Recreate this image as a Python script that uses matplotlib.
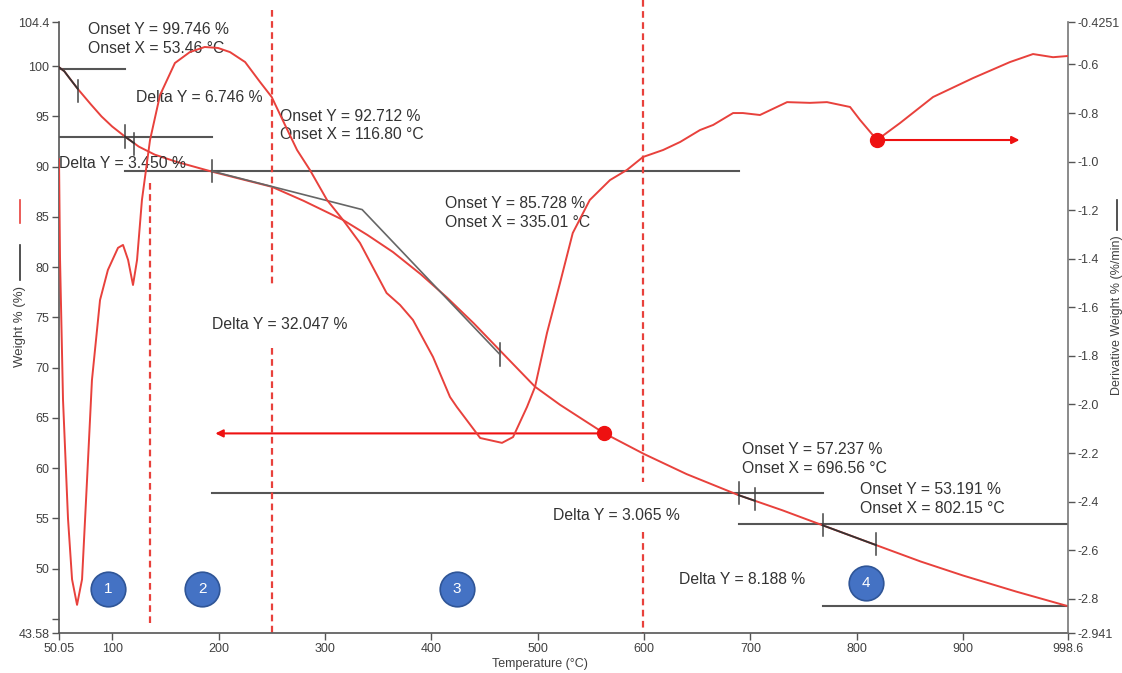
import matplotlib
matplotlib.use('Agg')
import matplotlib.pyplot as plt
from matplotlib.lines import Line2D
import numpy as np

plt.rcParams['font.family'] = ['Liberation Sans', 'DejaVu Sans']

# TGA weight curve (left axis, %)
temp_w = [50.05, 55, 60, 68, 80, 90, 100, 112, 125, 140, 160, 194, 220, 250,
          280, 317, 340, 364, 390, 414.5, 440, 464.6, 497.5, 521, 540, 562,
          600, 640, 689, 730, 768, 819, 860, 900, 950, 998.6]
weight = [99.9, 99.5, 98.8, 97.7, 96.2, 95.0, 94.0, 93.0, 92.0, 91.2, 90.5,
          89.5, 88.8, 88.0, 86.6, 84.7, 83.2, 81.5, 79.3, 77.0, 74.4, 71.7,
          68.1, 66.3, 65.0, 63.5, 61.4, 59.4, 57.3, 55.8, 54.3, 52.3, 50.7,
          49.3, 47.7, 46.25]

# derivative weight curve (right axis, %/min)
temp_d = [50.05, 51, 53.8, 58.5, 62.3, 67, 71.7, 76.4, 81, 88.6, 96, 105.5,
          110.2, 115, 119.6, 123.4, 128, 135.6, 145, 159, 173, 187, 199.5,
          210.8, 225, 239, 250, 262.5, 273.8, 286, 302, 317, 333, 345, 358,
          370.6, 382.8, 401.6, 417.6, 424, 446, 466.5, 476.9, 490, 497.5,
          508.8, 521, 533, 549, 568, 584, 599, 618, 634, 652.6, 665, 683.7,
          693, 709, 734.5, 756, 772, 793.7, 803, 819, 840.7, 871.7, 909.3,
          944, 965.7, 984.5, 998.6]
deriv = [-0.99, -1.40, -1.98, -2.47, -2.72, -2.825, -2.72, -2.31, -1.90,
         -1.57, -1.446, -1.355, -1.343, -1.405, -1.508, -1.405, -1.158,
         -0.911, -0.726, -0.594, -0.549, -0.528, -0.532, -0.549, -0.59,
         -0.672, -0.734, -0.849, -0.952, -1.035, -1.158, -1.24, -1.335,
         -1.434, -1.541, -1.59, -1.652, -1.804, -1.969, -2.01, -2.138,
         -2.158, -2.134, -2.01, -1.928, -1.705, -1.50, -1.294, -1.158,
         -1.076, -1.034, -0.981, -0.952, -0.919, -0.87, -0.849, -0.80,
         -0.80, -0.808, -0.755, -0.758, -0.755, -0.775, -0.828, -0.911,
         -0.841, -0.734, -0.656, -0.59, -0.557, -0.57, -0.565]

# step analysis results
onset_x = [53.46, 116.80, 335.01, 696.56, 802.15]
onset_y = [99.746, 92.712, 85.728, 57.237, 53.191]
delta_y = [6.746, 3.450, 32.047, 3.065, 8.188]

# step baselines: start/end temperature of each level line
level_t0 = [50.05, 50.05, 112.1, 194.0, 689.0, 767.8]
level_t1 = [112.1, 194.0, 689.0, 767.8, 998.6, 998.6]

# analysis limit markers on the weight curve
mark_t = [67.6, 112.1, 120.5, 194.0, 464.6, 689.0, 704.0, 767.8, 818.0]
mark_w = [97.5, 93.0, 92.3, 89.55, 71.3, 57.5, 56.9, 54.3, 52.4]

# tangent construction for the main step
tan_t = [194.0, 335.01, 464.6]
tan_w = [89.55, 85.728, 71.3]

# region boundaries and numbered regions
bound_t = [135.6, 250.3, 599.0]
region_t = [96.0, 184.5, 424.0, 808.7]
region_w = [48.0, 48.0, 48.0, 48.6]
region_lbl = ['1', '2', '3', '4']

xticks = [50.05, 100, 200, 300, 400, 500, 600, 700, 800, 900, 998.6]
xtick_lbl = ['50.05', '100', '200', '300', '400', '500', '600', '700', '800',
             '900', '998.6']
yticks = [43.58, 45, 50, 55, 60, 65, 70, 75, 80, 85, 90, 95, 100, 104.4]
ytick_lbl = ['43.58', '', '50', '55', '60', '65', '70', '75', '80', '85',
             '90', '95', '100', '104.4']
y2ticks = [-2.941, -2.8, -2.6, -2.4, -2.2, -2.0, -1.8, -1.6, -1.4, -1.2,
           -1.0, -0.8, -0.6, -0.4251]
y2tick_lbl = ['-2.941', '-2.8', '-2.6', '-2.4', '-2.2', '-2.0', '-1.8', '-1.6',
              '-1.4', '-1.2', '-1.0', '-0.8', '-0.6', '-0.4251']

RED = '#e8413c'
TXT = '#333333'
LINE = '#555555'

fig = plt.figure(figsize=(11.22, 6.73), dpi=100)
ax = fig.add_axes([0.0526, 0.0594, 0.8993, 0.9079])
ax2 = ax.twinx()

ax.set_xlim(50.05, 998.6)
ax.set_ylim(43.58, 104.4)
ax2.set_ylim(-2.941, -0.4251)

# curves
ax.plot(temp_w, weight, color=RED, lw=1.4, zorder=3)
ax2.plot(temp_d, deriv, color=RED, lw=1.4, zorder=3)

# baseline levels follow from the onset / delta values
levels = [onset_y[0]]
for d in delta_y:
    levels.append(levels[-1] - d)
for t0, t1, lv in zip(level_t0, level_t1, levels):
    ax.plot([t0, t1], [lv, lv], color=LINE, lw=1.5, zorder=2)

for t, w in zip(mark_t, mark_w):
    ax.plot([t, t], [w - 1.1, w + 1.1], color='#444444', lw=1.1, zorder=4)

ax.plot(tan_t, tan_w, color='#666666', lw=1.2, zorder=4)
# darker overlay where the analysis ranges sit on the curve
for ta, tb in [(50.05, 67.6), (112.1, 120.5), (689.0, 704.0), (767.8, 818.0)]:
    xs = [t for t in temp_w if ta < t < tb]
    ys = [w for t, w in zip(temp_w, weight) if ta < t < tb]
    xs = [ta] + xs + [tb]
    ys = ([float(np.interp(ta, temp_w, weight))] + ys
          + [float(np.interp(tb, temp_w, weight))])
    ax.plot(xs, ys, color='#333333', lw=1.3, zorder=4)

# dashed region boundaries (broken where labels sit)
dash_kw = dict(color=RED, lw=1.6, ls=(0, (3, 2)), zorder=2, clip_on=False)
ax.plot([bound_t[0], bound_t[0]], [88.4, 44.3], **dash_kw)
ax.plot([bound_t[1], bound_t[1]], [105.6, 78.2], **dash_kw)
ax.plot([bound_t[1], bound_t[1]], [72.0, 43.58], **dash_kw)
ax.plot([bound_t[2], bound_t[2]], [106.6, 58.6], **dash_kw)
ax.plot([bound_t[2], bound_t[2]], [53.6, 43.58], **dash_kw)

# pointer arrows from each curve to its axis
ax.annotate('', xy=(197, 63.45), xytext=(562, 63.45),
            arrowprops=dict(arrowstyle='-|>', color='#ee1111', lw=1.5,
                            mutation_scale=11, shrinkA=0, shrinkB=0), zorder=5)
ax.plot([562], [63.45], 'o', color='#ee1111', ms=10, zorder=6)
ax2.annotate('', xy=(953, -0.911), xytext=(819, -0.911),
             arrowprops=dict(arrowstyle='-|>', color='#ee1111', lw=1.5,
                             mutation_scale=11, shrinkA=0, shrinkB=0), zorder=5)
ax2.plot([819], [-0.911], 'o', color='#ee1111', ms=10, zorder=6)

# annotation text
fs = 11.3
tk = dict(fontsize=fs, color=TXT, va='center', linespacing=1.3)
ax.text(77.3, 102.7, f'Onset Y = {onset_y[0]:.3f} %\nOnset X = {onset_x[0]:.2f} °C', **tk)
ax.text(122.4, 96.9, f'Delta Y = {delta_y[0]:.3f} %', **tk)
ax.text(257.8, 94.1, f'Onset Y = {onset_y[1]:.3f} %\nOnset X = {onset_x[1]:.2f} °C', **tk)
ax.text(50.05, 90.3, f'Delta Y = {delta_y[1]:.3f} %', **tk)
ax.text(413, 85.4, f'Onset Y = {onset_y[2]:.3f} %\nOnset X = {onset_x[2]:.2f} °C', **tk)
ax.text(193.9, 74.3, f'Delta Y = {delta_y[2]:.3f} %', **tk)
ax.text(692, 60.9, f'Onset Y = {onset_y[3]:.3f} %\nOnset X = {onset_x[3]:.2f} °C', **tk)
ax.text(803, 56.9, f'Onset Y = {onset_y[4]:.3f} %\nOnset X = {onset_x[4]:.2f} °C', **tk)
ax.text(514.5, 55.3, f'Delta Y = {delta_y[3]:.3f} %', **tk)
ax.text(633, 48.9, f'Delta Y = {delta_y[4]:.3f} %', **tk)

# numbered regions
ax.scatter(region_t, region_w, s=620, color='#4472C4', edgecolor='#2F5597',
           linewidth=1.2, zorder=6)
for t, w, lbl in zip(region_t, region_w, region_lbl):
    ax.text(t, w, lbl, color='white', fontsize=11, ha='center', va='center',
            zorder=7)

# axes styling
ax.set_xticks(xticks)
ax.set_xticklabels(xtick_lbl)
ax.set_yticks(yticks)
ax.set_yticklabels(ytick_lbl)
ax2.set_yticks(y2ticks)
ax2.set_yticklabels(y2tick_lbl)
for a in (ax, ax2):
    a.tick_params(direction='out', length=5, width=1, color=LINE,
                  labelsize=9, labelcolor='#404040', pad=2)
    a.spines['top'].set_visible(False)
ax.spines['right'].set_visible(False)
ax2.spines['left'].set_visible(False)
ax2.spines['bottom'].set_visible(False)
ax.spines['left'].set_color(LINE)
ax.spines['bottom'].set_color(LINE)
ax2.spines['right'].set_color('#777777')
for s in ('left', 'bottom'):
    ax.spines[s].set_linewidth(1.2)
ax2.spines['right'].set_linewidth(1.2)

# axis titles with their line keys
fig.text(540 / 1122, 1 - 664 / 673, 'Temperature (°C)', fontsize=9,
         color='#404040', ha='center', va='center')
fig.text(20 / 1122, 1 - 326 / 673, 'Weight % (%)', fontsize=9.5,
         color='#404040', ha='center', va='center', rotation=90)
fig.add_artist(Line2D([20 / 1122, 20 / 1122], [1 - 200 / 673, 1 - 223 / 673],
                      color=RED, lw=1.2))
fig.add_artist(Line2D([20 / 1122, 20 / 1122], [1 - 245 / 673, 1 - 280 / 673],
                      color='#333333', lw=1.2))
fig.text(1117 / 1122, 1 - 315 / 673, 'Derivative Weight % (%/min)', fontsize=9,
         color='#404040', ha='center', va='center', rotation=90)
fig.add_artist(Line2D([1117 / 1122, 1117 / 1122], [1 - 200 / 673, 1 - 230 / 673],
                      color='#333333', lw=1.2))

fig.savefig('out.png', dpi=100)
